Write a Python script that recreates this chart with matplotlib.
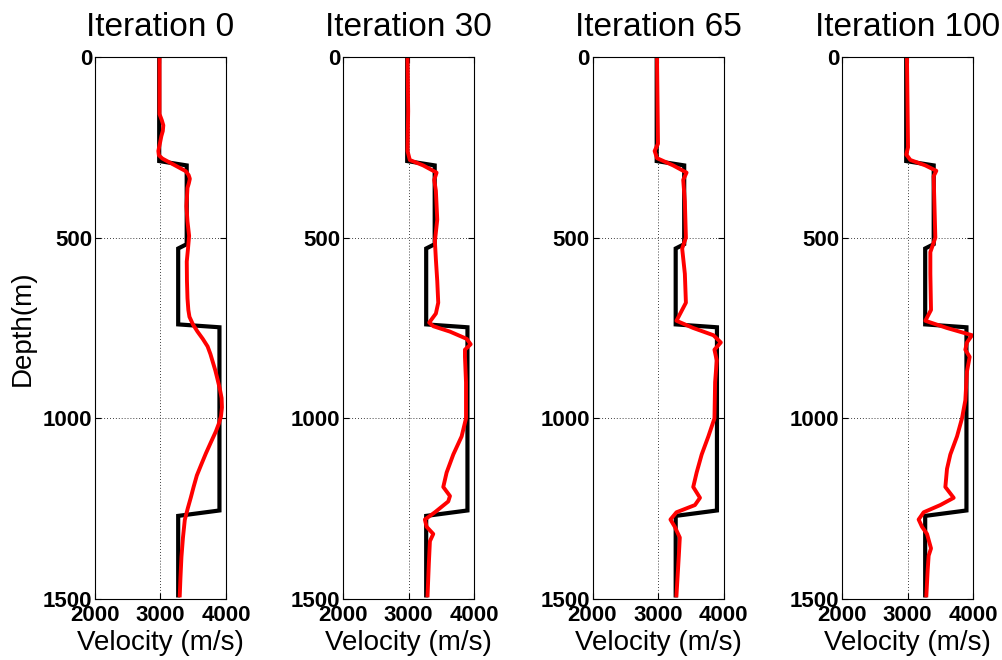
import numpy as np
import matplotlib.pyplot as plt

plt.rcParams['font.family'] = ['Liberation Sans', 'DejaVu Sans']

titles = ['Iteration 0', 'Iteration 30', 'Iteration 65', 'Iteration 100']

# true model (black step curve)
true_vel = [2980, 2980, 3400, 3400, 3270, 3270, 3900, 3900, 3270, 3270]
true_dep = [0, 288, 300, 518, 530, 740, 748, 1255, 1270, 1490]

# inverted models (red), velocity vs depth
dep0 = [0, 158, 175, 189, 205, 219, 240, 260, 272, 281, 291, 301, 316, 327, 337, 350, 362, 413,
        455, 495, 530, 566, 620, 668, 700, 719, 740, 760, 780, 801, 822, 842, 868, 893,
        918, 944, 970, 995, 1015, 1036, 1066, 1097, 1128, 1158, 1190, 1219, 1250, 1281,
        1330, 1383, 1440, 1490]
vel0 = [2985, 2985, 3020, 3043, 3035, 3013, 2990, 2967, 2975, 3028, 3130, 3233, 3386, 3430, 3448, 3432, 3412, 3396,
        3412, 3437, 3420, 3401, 3404, 3412, 3425, 3442, 3495, 3565, 3645, 3719, 3762, 3795, 3838, 3872,
        3905, 3933, 3938, 3923, 3890, 3846, 3770, 3693, 3622, 3555, 3505, 3463, 3415, 3371,
        3343, 3320, 3305, 3294]

dep30 = [0, 150, 260, 285, 300, 320, 340, 370, 450, 510, 560, 620, 680, 710, 735, 745,
         760, 780, 795, 810, 830, 900, 1000, 1050, 1100, 1150, 1190, 1215, 1230, 1260,
         1280, 1300, 1320, 1340, 1400, 1490]
vel30 = [2985, 2995, 2985, 3020, 3224, 3429, 3393, 3418, 3439, 3403, 3418, 3439, 3454, 3418, 3316, 3378,
         3633, 3888, 3949, 3862, 3862, 3878, 3878, 3811, 3684, 3582, 3531, 3633, 3607, 3403,
         3250, 3276, 3378, 3327, 3311, 3291]

dep65 = [0, 240, 260, 280, 300, 320, 340, 400, 500, 530, 600, 680, 730, 750, 770, 790,
         810, 840, 900, 1000, 1050, 1100, 1150, 1190, 1220, 1240, 1260, 1280, 1300, 1330,
         1380, 1490]
vel65 = [2985, 3000, 2949, 2985, 3231, 3436, 3385, 3410, 3426, 3369, 3410, 3426, 3282, 3538, 3846, 3959,
         3862, 3897, 3872, 3862, 3769, 3667, 3590, 3538, 3641, 3564, 3282, 3190, 3256, 3333,
         3318, 3282]

dep100 = [0, 250, 270, 285, 300, 315, 330, 400, 500, 540, 600, 700, 730, 750, 770, 790,
          810, 830, 870, 950, 1000, 1050, 1100, 1140, 1190, 1220, 1240, 1260, 1280, 1300,
          1320, 1360, 1380, 1420, 1490]
vel100 = [2992, 3008, 2982, 3043, 3272, 3440, 3399, 3410, 3425, 3349, 3349, 3359, 3272, 3603, 3985, 3908,
          3883, 3949, 3908, 3883, 3832, 3756, 3654, 3603, 3578, 3705, 3501, 3247, 3170, 3221,
          3298, 3359, 3323, 3308, 3288]

red_vel = [vel0, vel30, vel65, vel100]
red_dep = [dep0, dep30, dep65, dep100]

W, H = 1003, 660
fig = plt.figure(figsize=(W/100, H/100), dpi=100)

lefts = [95, 343, 592.5, 842]
for i in range(4):
    ax = fig.add_axes([lefts[i]/W, 61/H, 131/W, 542/H])
    ax.plot(true_vel, true_dep, color='k', lw=3, solid_joinstyle='miter')
    ax.plot(red_vel[i], red_dep[i], color='r', lw=2.8, solid_joinstyle='round')
    ax.set_xlim(2000, 4000)
    ax.set_ylim(1500, 0)
    ax.set_xticks([2000, 3000, 4000])
    ax.set_yticks([0, 500, 1000, 1500])
    ax.grid(True, color='k', lw=0.6, linestyle=(0, (1, 2.5)))
    ax.tick_params(direction='in', length=4, width=0.8, top=True, right=True,
                   labelsize=16, pad=2)
    ax.tick_params(axis='x', pad=4)
    for lab in ax.get_xticklabels() + ax.get_yticklabels():
        lab.set_fontweight('bold')
    for s in ax.spines.values():
        s.set_linewidth(0.8)
    ax.set_title(titles[i], fontsize=24, pad=15)
    ax.set_xlabel('Velocity (m/s)', fontsize=20, labelpad=3)
    if i == 0:
        ax.set_ylabel('Depth(m)', fontsize=20, labelpad=5)

fig.savefig('out.png', dpi=100)
